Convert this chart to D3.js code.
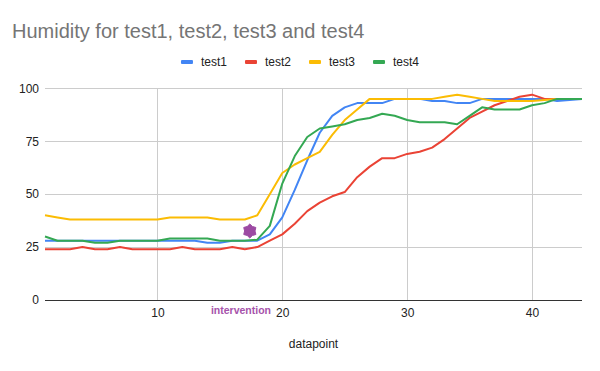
<!DOCTYPE html>
<html>
<head>
<meta charset="utf-8">
<script src="https://cdn.jsdelivr.net/npm/d3@7"></script>
<style>
  html, body { margin: 0; padding: 0; background: #fff; }
  svg { display: block; font-family: "Liberation Sans", Arial, sans-serif; }
</style>
</head>
<body>
<svg id="chart" width="600" height="371"></svg>
<script>
// ---- data ----
const datapoints = d3.range(1, 45);
const seriesNames = ["test1", "test2", "test3", "test4"];
const seriesColors = ["#4285f4", "#ea4335", "#fbbc04", "#34a853"];
const test1 = [28,28,28,28,28,28,28,28,28,28,28,28,28,27,27,28,28,28,31,39,52,66,79,87,91,93,93,93,95,95,95,94,94,93,93,95,95,95,95,95,95,94,94.5,95];
const test2 = [24,24,24,25,24,24,25,24,24,24,24,25,24,24,24,25,24,25,28,31,36,42,46,49,51,58,63,67,67,69,70,72,76,81,86,89,92,94,96,97,95,95,95,95];
const test3 = [40,39,38,38,38,38,38,38,38,38,39,39,39,39,38,38,38,40,50,60,64,67,70,78,85,90,95,95,95,95,95,95,96,97,96,95,94,94,94,94,94.5,95,95,95];
const test4 = [30,28,28,28,27,27,28,28,28,28,29,29,29,29,28,28,28,28.5,35,55,68,77,81,82,83,85,86,88,87,85,84,84,84,83,87,91,90,90,90,92,93,95,95,95];
const interventionX = [17.4];
const interventionY = [32.6];
const interventionLabel = "intervention";
const xTicks = [10, 20, 30, 40];
const yTicks = [0, 25, 50, 75, 100];
const titleText = "Humidity for test1, test2, test3 and test4";
const xTitle = "datapoint";

const seriesValues = [test1, test2, test3, test4];

// ---- layout ----
const svg = d3.select("#chart");
svg.append("rect").attr("width", 600).attr("height", 371).attr("fill", "#fff");

const x = d3.scaleLinear().domain([1, 44]).range([45, 582]);
const y = d3.scaleLinear().domain([0, 100]).range([300, 88.3]);

// title
svg.append("text")
  .attr("x", 12).attr("y", 38)
  .attr("font-size", 20).attr("fill", "#757575")
  .text(titleText);

// gridlines
const grid = svg.append("g");
grid.selectAll("line.h").data(yTicks.filter(d => d !== 0)).join("line")
  .attr("x1", 45).attr("x2", 582)
  .attr("y1", d => Math.round(y(d)) + 0.5).attr("y2", d => Math.round(y(d)) + 0.5)
  .attr("stroke", "#cccccc").attr("stroke-width", 1);
grid.selectAll("line.v").data(xTicks).join("line")
  .attr("x1", d => Math.round(x(d)) + 0.5).attr("x2", d => Math.round(x(d)) + 0.5)
  .attr("y1", y(100)).attr("y2", y(0))
  .attr("stroke", "#cccccc").attr("stroke-width", 1);

// y axis labels
const yAxis = d3.axisLeft(y).tickValues(yTicks).tickSize(0).tickPadding(6);
const gy = svg.append("g").attr("transform", "translate(45,0)").call(yAxis);
gy.select(".domain").remove();
gy.selectAll("text").attr("font-size", 12).attr("fill", "#222").attr("font-family", "Liberation Sans, Arial, sans-serif");

// x axis labels
const xAxis = d3.axisBottom(x).tickValues(xTicks).tickSize(0).tickPadding(8).tickFormat(d3.format("d"));
const gx = svg.append("g").attr("transform", "translate(0,300)").call(xAxis);
gx.select(".domain").remove();
gx.selectAll("text").attr("font-size", 12).attr("fill", "#222").attr("font-family", "Liberation Sans, Arial, sans-serif");

// baseline
svg.append("line")
  .attr("x1", 45).attr("x2", 582).attr("y1", y(0) + 0.5).attr("y2", y(0) + 0.5)
  .attr("stroke", "#333").attr("stroke-width", 1);

// lines
const line = d3.line().x((d, i) => x(datapoints[i])).y(d => y(d));
seriesValues.forEach((vals, k) => {
  svg.append("path")
    .datum(vals)
    .attr("fill", "none")
    .attr("stroke", seriesColors[k])
    .attr("stroke-width", 2)
    .attr("stroke-linejoin", "round")
    .attr("d", line);
});

// intervention marker (6-point star)
function starPath(r1, r2, n) {
  const pts = [];
  for (let i = 0; i < 2 * n; i++) {
    const r = i % 2 === 0 ? r1 : r2;
    const a = Math.PI * i / n - Math.PI / 2;
    pts.push([r * Math.cos(a), r * Math.sin(a)]);
  }
  return "M" + pts.map(p => p.join(",")).join("L") + "Z";
}
svg.selectAll("path.star").data(interventionX).join("path")
  .attr("class", "star")
  .attr("transform", (d, i) => `translate(${x(d)},${y(interventionY[i])})`)
  .attr("d", starPath(7, 5.2, 6))
  .attr("fill", "#9c4aa3")
  .attr("stroke", "#9c4aa3").attr("stroke-width", 1).attr("stroke-linejoin", "round");

svg.append("text")
  .attr("x", 271).attr("y", 314)
  .attr("text-anchor", "end")
  .attr("font-size", 10.5).attr("font-weight", "bold")
  .attr("fill", "#a653ab")
  .text(interventionLabel);

// x title
svg.append("text")
  .attr("x", (x(1) + x(44)) / 2).attr("y", 348)
  .attr("text-anchor", "middle")
  .attr("font-size", 12).attr("fill", "#222")
  .text(xTitle);

// legend
const legend = svg.append("g");
let cx = 0;
const items = [];
seriesNames.forEach((name, k) => {
  const g = legend.append("g");
  g.append("rect").attr("x", 0).attr("y", -2).attr("width", 12).attr("height", 4).attr("rx", 1)
    .attr("fill", seriesColors[k]);
  const t = g.append("text").attr("x", 20).attr("y", 4.3)
    .attr("font-size", 12).attr("fill", "#222").text(name);
  const w = 20 + t.node().getComputedTextLength();
  items.push({g, w});
});
const gap = 18;
const total = d3.sum(items, d => d.w) + gap * (items.length - 1);
let pos = 300 - total / 2;
items.forEach(it => {
  it.g.attr("transform", `translate(${pos},62)`);
  pos += it.w + gap;
});
</script>
</body>
</html>
